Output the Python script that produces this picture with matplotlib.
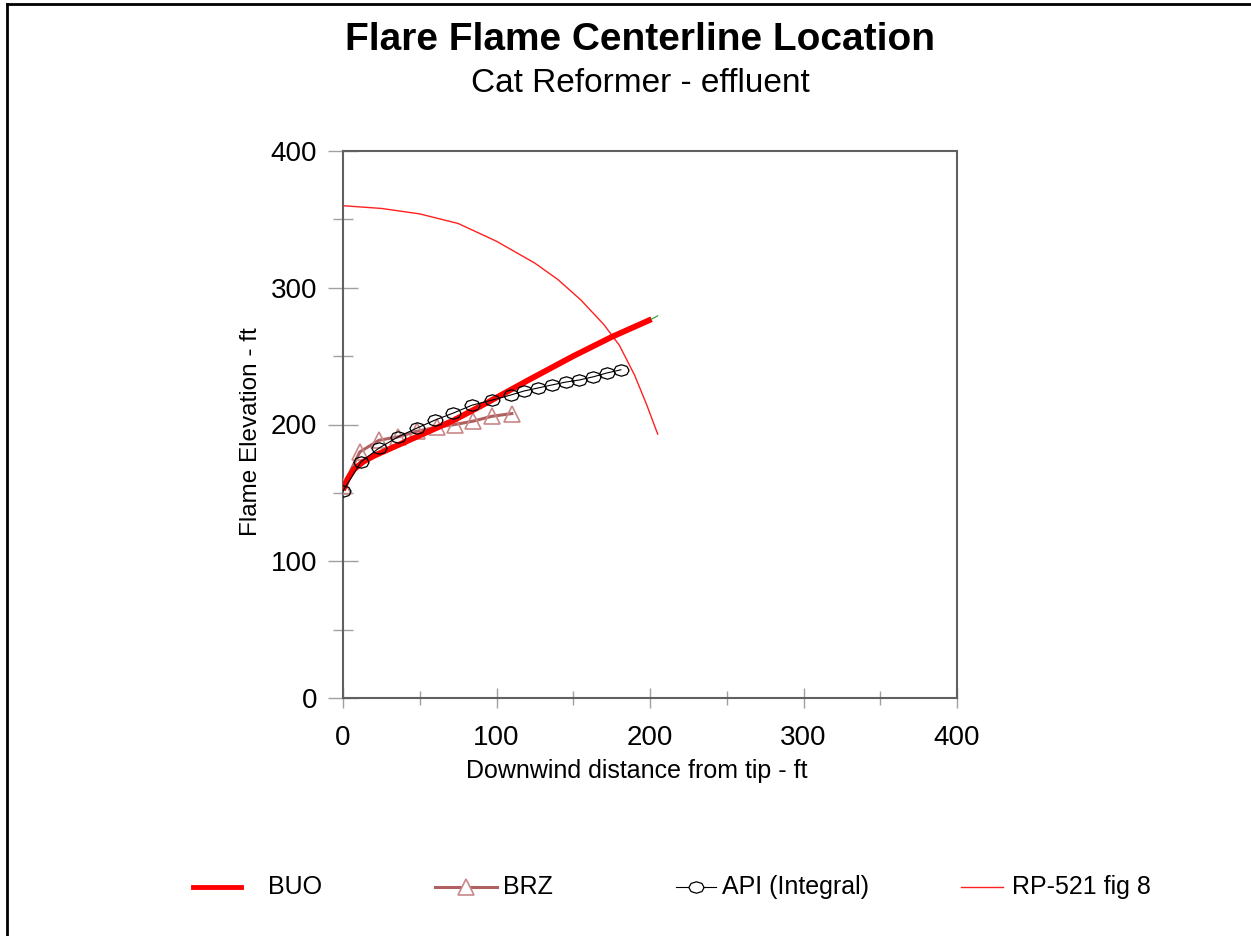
import numpy as np
import matplotlib
matplotlib.use("Agg")
import matplotlib.pyplot as plt
from matplotlib.path import Path
from matplotlib.lines import Line2D

plt.rcParams['font.family'] = ['Liberation Sans', 'DejaVu Sans']

# ---- data ----
buo_x = [0, 3, 7, 13, 20, 30, 39, 50, 72, 94, 120, 150, 175, 201]
buo_y = [152, 160, 167, 172.6, 177, 182, 186.5, 192, 203, 216, 232, 250, 264, 277]

brz_x = [0, 11, 23.5, 36, 48, 61, 73, 85, 97, 110]
brz_y = [155, 180, 188.5, 191, 195, 198, 200, 202.5, 206, 208]

api_x = [0, 11.7, 23.5, 35.8, 48.2, 59.9, 71.7, 84, 97, 109.4, 117.9, 127, 136, 145, 153.7, 162.8, 172, 181]
api_y = [151.4, 172.6, 182.8, 190.9, 197.4, 203.2, 208.3, 214.1, 217.8, 221.6, 224.5, 226.7, 228.9, 231, 232.5, 234.8, 237.7, 240]

rp_x = [0, 25, 50, 75, 100, 125, 140, 155, 170, 180, 190, 198, 205]
rp_y = [360, 358, 354, 347, 334, 318, 306, 291, 273, 258, 236, 214, 193]

tip_x = [201, 205]
tip_y = [277, 279.5]

legend_labels = ["BUO", "BRZ", "API (Integral)", "RP-521 fig 8"]

# ---- figure ----
fig = plt.figure(figsize=(12.51, 9.36), dpi=100)
W, H = 1251, 936

def fx(p):
    return p / W

def fy(p):
    return 1 - p / H

# outer frame (only left and top visible)
fig.add_artist(Line2D([fx(6.5), fx(6.5)], [fy(3.5), 0], color='black', lw=2))
fig.add_artist(Line2D([fx(6.5), 1], [fy(3.5), fy(3.5)], color='black', lw=2))

ax = fig.add_axes([fx(343), fy(698), fx(957) - fx(343), fy(151) - fy(698)])

# ellipse marker for API
t = np.linspace(0, 2 * np.pi, 9)
ell = Path(np.column_stack([np.cos(t), 0.75 * np.sin(t)]))

ax.plot(rp_x, rp_y, color='#ff2020', lw=1.0, zorder=2)
ax.plot(brz_x, brz_y, color='#b06060', lw=2.2, marker='^', ms=11,
        mfc='none', mec='#c88888', mew=1.2, zorder=3)
ax.plot(buo_x, buo_y, color='#ff0000', lw=4.2, solid_capstyle='butt', zorder=4)
ax.plot(api_x, api_y, color='black', lw=0.8, marker=ell, ms=11,
        mfc='none', mec='black', mew=0.9, zorder=5)
ax.plot(tip_x, tip_y, color='#20a020', lw=0.8, zorder=5)

ax.set_xlim(0, 400)
ax.set_ylim(0, 400)
ax.set_xticks([0, 100, 200, 300, 400])
ax.set_yticks([0, 100, 200, 300, 400])
ax.set_xticks([50, 150, 250, 350], minor=True)
ax.set_yticks([50, 150, 250, 350], minor=True)

for s in ax.spines.values():
    s.set_color('#606060')
    s.set_linewidth(1.5)

ax.tick_params(which='both', direction='inout', width=1.0, color='#a0a0a0')
ax.tick_params(which='major', labelsize=20)
ax.tick_params(axis='x', which='major', length=15, pad=12)
ax.tick_params(axis='x', which='minor', length=10)
ax.tick_params(axis='y', which='major', length=21, pad=8)
ax.tick_params(axis='y', which='minor', length=14)

# titles / labels
fig.text(fx(640), fy(40), "Flare Flame Centerline Location", ha='center', va='center',
         fontsize=28, fontweight='bold')
fig.text(fx(640), fy(84), "Cat Reformer - effluent", ha='center', va='center', fontsize=24)
fig.text(fx(637), fy(771), "Downwind distance from tip - ft", ha='center', va='center', fontsize=18)
fig.text(fx(251), fy(432), "Flame Elevation - ft", ha='center', va='center',
         rotation=90, fontsize=17.5)

# legend (manual, irregular spacing as in the reference)
ly = fy(887)
entries = [
    dict(x0=193, x1=241, tx=268, kw=dict(color='#ff0000', lw=3.5)),
    dict(x0=435, x1=497, tx=503, kw=dict(color='#b06060', lw=2.2, marker='^', ms=11,
                                          mfc='white', mec='#c88888', mew=1.2)),
    dict(x0=676, x1=716, tx=722, kw=dict(color='black', lw=0.8, marker=ell, ms=11,
                                          mfc='white', mec='black', mew=0.9)),
    dict(x0=961, x1=1003, tx=1012, kw=dict(color='#ff2020', lw=1.0)),
]
for e, lab in zip(entries, legend_labels):
    xm = (e['x0'] + e['x1']) / 2
    ln = Line2D([fx(e['x0']), fx(xm), fx(e['x1'])], [ly, ly, ly],
                markevery=[1], **e['kw'])
    fig.add_artist(ln)
    fig.text(fx(e['tx']), ly, lab, ha='left', va='center', fontsize=18)

fig.savefig("out.png", dpi=100)
